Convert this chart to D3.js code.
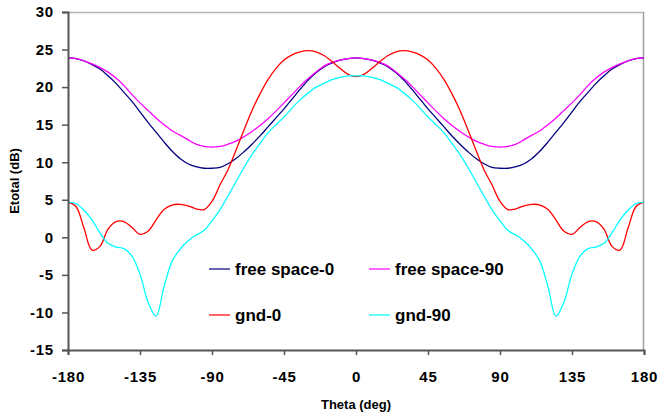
<!DOCTYPE html>
<html>
<head>
<meta charset="utf-8">
<script src="https://cdn.jsdelivr.net/npm/d3@7"></script>
<style>
  body { margin: 0; background: #fff; }
  text { font-family: Arial, "Liberation Sans", sans-serif; font-weight: bold; fill: #000; }
</style>
</head>
<body>
<div class="chart"></div>
<script>
// theta (deg), 5 degree steps
var theta = [-180, -175, -170, -165, -160, -155, -150, -145, -140, -135, -130, -125, -120,
  -115, -110, -105, -100, -95, -90, -85, -80, -75, -70, -65, -60, -55, -50, -45, -40,
  -35, -30, -25, -20, -15, -10, -5, 0, 5, 10, 15, 20, 25, 30, 35, 40, 45, 50, 55, 60,
  65, 70, 75, 80, 85, 90, 95, 100, 105, 110, 115, 120, 125, 130, 135, 140, 145, 150,
  155, 160, 165, 170, 175, 180];

var freeSpace0 = [23.9, 23.8, 23.5, 23.0, 22.4, 21.5, 20.5, 19.3, 18.1, 16.7, 15.3, 14.0, 12.7,
  11.5, 10.5, 9.8, 9.4, 9.2, 9.2, 9.3, 9.8, 10.5, 11.4, 12.4, 13.5, 14.7, 15.9, 17.1, 18.4,
  19.7, 20.9, 21.9, 22.7, 23.2, 23.6, 23.8, 23.9, 23.8, 23.6, 23.2, 22.7, 21.9, 20.9, 19.7, 18.4,
  17.1, 15.9, 14.7, 13.5, 12.4, 11.4, 10.5, 9.8, 9.3, 9.2, 9.2, 9.4, 9.8, 10.5, 11.5, 12.7,
  14.0, 15.3, 16.7, 18.1, 19.3, 20.5, 21.5, 22.4, 23.0, 23.5, 23.8, 23.9];

var freeSpace90 = [23.9, 23.8, 23.5, 23.1, 22.6, 22.0, 21.2, 20.2, 19.0, 17.9, 16.9, 15.9, 15.0,
  14.2, 13.6, 13.0, 12.4, 12.1, 12.0, 12.1, 12.4, 12.8, 13.4, 14.1, 14.9, 15.8, 16.8, 17.9, 19.0,
  20.1, 21.1, 22.0, 22.8, 23.3, 23.6, 23.8, 23.9, 23.8, 23.6, 23.3, 22.8, 22.0, 21.1, 20.1, 19.0,
  17.9, 16.8, 15.8, 14.9, 14.1, 13.4, 12.8, 12.4, 12.1, 12.0, 12.1, 12.4, 13.0, 13.6, 14.2, 15.0,
  15.9, 16.9, 17.9, 19.0, 20.2, 21.2, 22.0, 22.6, 23.1, 23.5, 23.8, 23.9];

var gnd0 = [4.7, 4.1, 1.2, -1.7, -1.2, 1.1, 2.1, 2.1, 1.3, 0.4, 0.8, 2.3, 3.7,
  4.3, 4.4, 4.2, 3.8, 3.7, 4.8, 7.0, 9.0, 11.6, 14.3, 16.9, 19.1, 21.0, 22.5, 23.6, 24.3,
  24.7, 24.85, 24.7, 24.2, 23.4, 22.5, 21.7, 21.4, 21.7, 22.5, 23.4, 24.2, 24.7, 24.85, 24.7, 24.3,
  23.6, 22.5, 21.0, 19.1, 16.9, 14.3, 11.6, 9.0, 7.0, 4.8, 3.7, 3.8, 4.2, 4.4, 4.3, 3.7,
  2.3, 0.8, 0.4, 1.3, 2.1, 2.1, 1.1, -1.2, -1.7, 1.2, 4.1, 4.7];

var gnd90 = [4.7, 4.5, 3.6, 2.3, 0.6, -0.8, -1.3, -1.5, -2.5, -4.9, -8.6, -10.5, -6.6,
  -3.2, -1.6, -0.5, 0.3, 0.9, 2.2, 3.7, 5.5, 7.4, 9.3, 11.0, 12.5, 13.9, 15.0, 16.0, 17.2,
  18.3, 19.2, 20.0, 20.5, 21.0, 21.3, 21.5, 21.5, 21.5, 21.3, 21.0, 20.5, 20.0, 19.2, 18.3, 17.2,
  16.0, 15.0, 13.9, 12.5, 11.0, 9.3, 7.4, 5.5, 3.7, 2.2, 0.9, 0.3, -0.5, -1.6, -3.2, -6.6,
  -10.5, -8.6, -4.9, -2.5, -1.5, -1.3, -0.8, 0.6, 2.3, 3.6, 4.5, 4.7];

var seriesNames = ['free space-0', 'free space-90', 'gnd-0', 'gnd-90'];
var seriesColors = ['#000080', '#ff00ff', '#ff0000', '#00ffff'];
var xTicks = [-180, -135, -90, -45, 0, 45, 90, 135, 180];
var yTicks = [-15, -10, -5, 0, 5, 10, 15, 20, 25, 30];

var margin = { top: 12, right: 15, bottom: 67, left: 68 };
var width = 659 - margin.left - margin.right;
var height = 417 - margin.top - margin.bottom;

var svg = d3.select('.chart')
  .append('svg')
    .attr('width', 659)
    .attr('height', 417)
  .append('g')
    .attr('transform', `translate(${margin.left}, ${margin.top})`);

var xScale = d3.scaleLinear().domain([-180, 180]).range([0, width]);
var yScale = d3.scaleLinear().domain([-15, 30]).range([height, 0]);

// plot area frame: light top/right, darker axes
svg.append('line')
  .attr('x1', 0).attr('x2', width).attr('y1', 0.5).attr('y2', 0.5)
  .style('stroke', '#b4b4b4').style('stroke-width', 1.5);
svg.append('line')
  .attr('x1', width - 0.5).attr('x2', width - 0.5).attr('y1', 0).attr('y2', height)
  .style('stroke', '#a0a0a0').style('stroke-width', 1.5);

var data = [freeSpace0, freeSpace90, gnd0, gnd90].map(function (vals, i) {
  return { name: seriesNames[i], values: theta.map((t, j) => ({ t: t, v: vals[j] })) };
});

var line = d3.line()
  .x(d => xScale(d.t))
  .y(d => yScale(d.v))
  .curve(d3.curveCatmullRom.alpha(0.5));

svg.selectAll('.series')
  .data(data)
  .enter()
  .append('path')
  .attr('class', 'series')
  .attr('d', d => line(d.values))
  .style('fill', 'none')
  .style('stroke', (d, i) => seriesColors[i])
  .style('stroke-width', 1.3);

// plain hyphen for negatives, like the original
var fmt = d => String(d);

var yAxis = svg.append('g')
  .call(d3.axisLeft(yScale).tickValues(yTicks).tickFormat(fmt).tickSize(6).tickPadding(8));
var xAxis = svg.append('g')
  .attr('transform', `translate(0, ${height})`)
  .call(d3.axisBottom(xScale).tickValues(xTicks).tickFormat(fmt).tickSize(5).tickPadding(16));

[yAxis, xAxis].forEach(function (ax) {
  ax.select('.domain').style('stroke', '#555').style('stroke-width', 2);
  ax.selectAll('.tick line').style('stroke', '#555').style('stroke-width', 1.5);
  ax.selectAll('.tick text')
    .style('font-size', '15px')
    .style('letter-spacing', '0.8px')
    .style('font-family', 'Arial, "Liberation Sans", sans-serif')
    .style('font-weight', 'bold')
    .style('fill', '#000');
});

svg.append('text')
  .attr('transform', `translate(${14 - margin.left}, ${height / 2}) rotate(-90)`)
  .attr('text-anchor', 'middle')
  .attr('dy', '0.35em')
  .style('font-size', '13px')
  .text('Etotal (dB)');

svg.append('text')
  .attr('x', width / 2)
  .attr('y', height + 59)
  .attr('text-anchor', 'middle')
  .style('font-size', '13px')
  .text('Theta (deg)');

// legend, 2 x 2
var legend = svg.selectAll('.legend')
  .data(seriesNames)
  .enter()
  .append('g')
  .attr('class', 'legend')
  .attr('transform', (d, i) => `translate(${141 + (i % 2) * 160}, ${257 + Math.floor(i / 2) * 46})`);

legend.append('line')
  .attr('x1', 0).attr('x2', 21).attr('y1', 0).attr('y2', 0)
  .style('stroke', (d, i) => seriesColors[i])
  .style('stroke-width', 2)
  .style('opacity', 0.6);

legend.append('text')
  .attr('x', 26)
  .attr('dy', '0.35em')
  .style('font-size', '17px')
  .text(d => d);
</script>
</body>
</html>
